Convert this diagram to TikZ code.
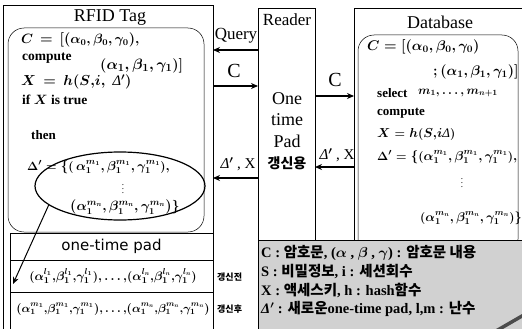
\documentclass[tikz,border=0pt]{standalone}
\usepackage{fontspec}
\setmainfont{Liberation Serif}
\newfontfamily\kr{Noto Sans CJK KR}
\newfontfamily\ssf{DejaVu Sans}
\DeclareFontShape{OML}{cmm}{m}{it}{<-> cmmi10}{}
\DeclareFontShape{OML}{cmm}{b}{it}{<-> cmmib10}{}
\DeclareFontShape{OMS}{cmsy}{m}{n}{<-> cmsy10}{}
\DeclareFontShape{OMS}{cmsy}{b}{n}{<-> cmbsy10}{}
\usetikzlibrary{shapes.geometric,arrows.meta}
\newcommand{\fs}[1]{\fontsize{#1}{#1}\selectfont}
\newcommand{\DD}{{\itshape Δ}}
\newcommand{\cm}{\mathord{,}}
\begin{document}
\begin{tikzpicture}[x=1pt,y=-1pt,
  boxa/.style={draw,line width=0.9pt,inner sep=0pt,outer sep=0pt,anchor=north west},
  rbox/.style={draw,line width=0.5pt,inner sep=0pt,outer sep=0pt,anchor=north west,rounded corners=16pt},
  arr/.style={line width=1.2pt,-{Stealth[length=7pt,width=6pt]}},
  txt/.style={inner sep=0pt,anchor=west,font=\boldmath},
  ctxt/.style={inner sep=0pt,anchor=center,font=\boldmath}]
\useasboundingbox (0,0) rectangle (522,329);
% boxes
\node[boxa,minimum width=210pt,minimum height=326pt] (tag) at (3,5) {};
\node[rbox,minimum width=196pt,minimum height=204pt] (tagin) at (8,28) {};
\node[boxa,minimum width=57pt,minimum height=232pt] (reader) at (258,8) {};
\node[boxa,minimum width=170pt,minimum height=232pt] (db) at (354,8) {};
\node[rbox,minimum width=160pt,minimum height=220pt] (dbin) at (358,35) {};
% one-time pad
\node[boxa,fill=white,minimum width=203pt,minimum height=27pt] (otph) at (10,233) {};
\node[boxa,minimum width=203pt,minimum height=32pt] (otp1) at (10,260) {};
\node[boxa,minimum width=203pt,minimum height=37pt] (otp2) at (10,292) {};
\node[ctxt] (otpt) at (otph.center) {\ssf\fs{15}one-time pad};
\node[ctxt] (otp1t) at (113,276) {\fs{12.3}$(\alpha_1^{l_1}\cm\beta_1^{l_1}\cm\gamma_1^{l_1})\cm\ldots\cm(\alpha_1^{l_n}\cm\beta_1^{l_n}\cm\gamma_1^{l_n})$};
\node[ctxt] (otp2t) at (113,309) {\fs{11.6}$(\alpha_1^{m_1}\cm\beta_1^{m_1}\cm\gamma_1^{m_1})\cm\ldots\cm(\alpha_1^{m_n}\cm\beta_1^{m_n}\cm\gamma_1^{m_n})$};
\node[txt] (bef) at (217,277) {\kr\bfseries\fs{9}갱신전};
\node[txt] (aft) at (217,309) {\kr\bfseries\fs{9}갱신후};
% tag texts
\node[ctxt] (tagt) at (110,18) {\fs{18}RFID Tag};
\node[txt] (t1) at (21,40) {\fs{13.5}$C\,=\,[(\alpha_0,\beta_0,\gamma_0),$};
\node[txt] (t2) at (22,58) {\bfseries\fs{13.5}compute};
\node[txt] (t3) at (100,66) {\fs{15}$(\alpha_1,\beta_1,\gamma_1)]$};
\node[txt] (t4) at (21,82) {\fs{14.5}$X\,=\,h(S{,}i,\ $ \DD$')$};
\node[txt] (t5) at (22,100) {\bfseries\fs{13.5}if $X$ is true};
\node[txt] (t6) at (31,135) {\bfseries\fs{13}then};
\node[txt] (t7) at (27,167) {\fs{13}$\Delta' = \{(\,\alpha_1^{m_1},\beta_1^{m_1},\gamma_1^{m_1}),$};
\node[ctxt] (t8) at (123,186) {\fs{9}$\vdots$};
\node[txt] (t9) at (70,207) {\fs{13.5}$(\alpha_1^{m_n},\beta_1^{m_n},\gamma_1^{m_n})\}$};
\node[draw,ellipse,line width=1.2pt,minimum width=170pt,minimum height=68pt,inner sep=0pt] (ell) at (120,186) {};
\coordinate (otptip) at (13,284);
\draw[arr,line width=1pt] (ell.195) -- (otptip);
% reader texts
\node[ctxt] (rdt) at (287,20) {\fs{17}Reader};
\node[ctxt] (one) at (287,99) {\fs{18}One};
\node[ctxt] (time) at (287,120) {\fs{18}time};
\node[ctxt] (pad) at (287,141) {\fs{18}Pad};
\node[ctxt] (upd) at (287,163) {\kr\bfseries\fs{14}갱신용};
% database texts
\node[ctxt] (dbt) at (440,22) {\fs{18}Database};
\node[txt] (d1) at (367,47) {\fs{14}$C = [(\alpha_0,\beta_0,\gamma_0)$};
\node[txt] (d2) at (433,72) {\fs{14}$;(\alpha_1,\beta_1,\gamma_1)]$};
\node[txt] (d3) at (377,93) {\bfseries\fs{13}select};
\node[txt] (d3b) at (418,93) {\fs{12}$m_1,\dots,m_{n+1}$};
\node[txt] (d4) at (377,113) {\bfseries\fs{13}compute};
\node[txt] (d5) at (377,134) {\fs{13}$X = h(S{,}i$\DD$)$};
\node[txt] (d6) at (377,157) {\fs{13}$\Delta' = \{(\alpha_1^{m_1},\beta_1^{m_1},\gamma_1^{m_1}),$};
\node[ctxt] (d7) at (462,180) {\fs{9}$\vdots$};
\node[txt] (d8) at (420,218) {\fs{12.7}$(\alpha_1^{m_n},\beta_1^{m_n},\gamma_1^{m_n})\}$};
% arrows and labels
\draw[arr] (reader.west |- 0,50) -- (tag.east |- 0,50);
\node[ctxt] (lq) at (236,36) {\fs{17}Query};
\draw[arr] (tag.east |- 0,86) -- (reader.west |- 0,86);
\node[ctxt] (lc1) at (234,71) {\fs{20}C};
\draw[arr] (reader.east |- 0,96) -- (db.west |- 0,96);
\node[ctxt] (lc2) at (335,80) {\fs{20}C};
\draw[arr] (db.west |- 0,167) -- (reader.east |- 0,167);
\node[ctxt] (ld2) at (337,155) {\fs{15}\DD$'$ , X};
\draw[arr] (reader.west |- 0,178) -- (tag.east |- 0,178);
\node[ctxt] (ld1) at (238,164) {\fs{15}\DD$'$ , X};
% legend
\node[boxa,fill=black!18,minimum width=266pt,minimum height=91pt] (leg) at (258,240) {};
\node[txt] (l1) at (261,253) {\bfseries\fs{14.5}C : {\kr 암호문}, ($\alpha$ , $\beta$ , $\gamma$) : {\kr 암호문 내용}};
\node[txt] (l2) at (261,271) {\bfseries\fs{14.5}S : {\kr 비밀정보}, i : {\kr 세션회수}};
\node[txt] (l3) at (261,290) {\bfseries\fs{14.5}X : {\kr 액세스키}, h : hash{\kr 함수}};
\node[txt] (l4) at (261,309) {\bfseries\fs{14.5}\DD$'$ : {\kr 새로운}one-time pad, l,m : {\kr 난수}};
\fill[black!70] (496,329) -- (522,314) -- (522,318) -- (503,329) -- cycle;
\end{tikzpicture}
\end{document}
